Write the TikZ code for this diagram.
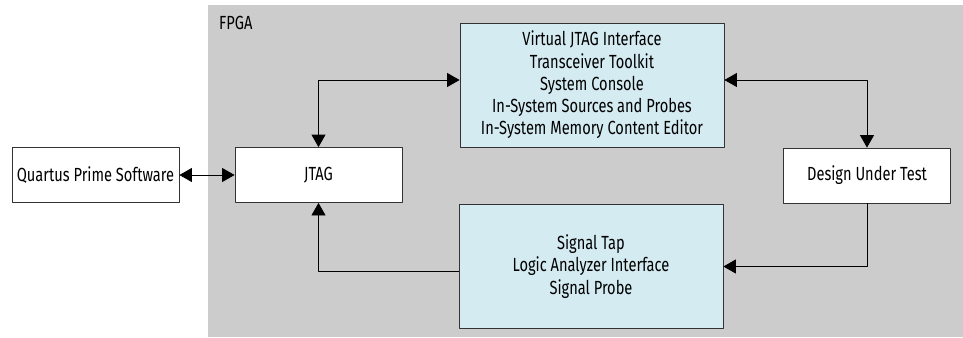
\documentclass[tikz,border=0pt]{standalone}
\usepackage{fontspec}
\setmainfont[FakeStretch=0.77]{Fira Sans}
\usetikzlibrary{arrows.meta}
\definecolor{fpgagray}{RGB}{204,204,204}
\definecolor{toolblue}{RGB}{212,235,242}
\begin{document}
\begin{tikzpicture}[x=1bp, y=-1bp, line join=round,
    >={Triangle[length=12.5bp,width=14bp]},
    font=\fontsize{19bp}{22.2bp}\selectfont,
    whitebox/.style={draw=black!80, fill=white, line width=0.8bp, minimum width=167bp, minimum height=55bp, inner sep=0pt},
    bluebox/.style={draw=black!80, fill=toolblue, line width=0.8bp, minimum width=264bp, minimum height=124bp, align=center, inner sep=0pt},
    link/.style={line width=0.8bp}]
    \useasboundingbox (0,0) rectangle (963,337);
    % FPGA area
    \node[fill=fpgagray, minimum width=755bp, minimum height=332bp, inner sep=0pt] (fpga) at (585.5,171) {};
    \node[anchor=north west, inner sep=0pt] (fpgalabel) at (219,16) {FPGA};
    % blocks
    \node[whitebox] (quartus) at (95.5,175) {Quartus Prime Software};
    \node[whitebox] (jtag) at (318.5,175) {JTAG};
    \node[whitebox] (dut) at (867,175.5) {Design Under Test};
    \node[bluebox] (tools) at (592,85) {Virtual JTAG Interface\\Transceiver Toolkit\\System Console\\In-System Sources and Probes\\In-System Memory Content Editor};
    \node[bluebox] (probes) at (591,266.5) {Signal Tap\\Logic Analyzer Interface\\Signal Probe};
    % connections
    \draw[link,<->] (quartus.east) -- (jtag.west);
    \draw[link,<->] (jtag.north) |- ([yshift=5bp]tools.west);
    \draw[link,<->] ([yshift=5bp]tools.east) -| (dut.north);
    \draw[link,->] (dut.south) |- (probes.east);
    \draw[link,->] ([yshift=-5bp]probes.west) -| (jtag.south);
\end{tikzpicture}
\end{document}
